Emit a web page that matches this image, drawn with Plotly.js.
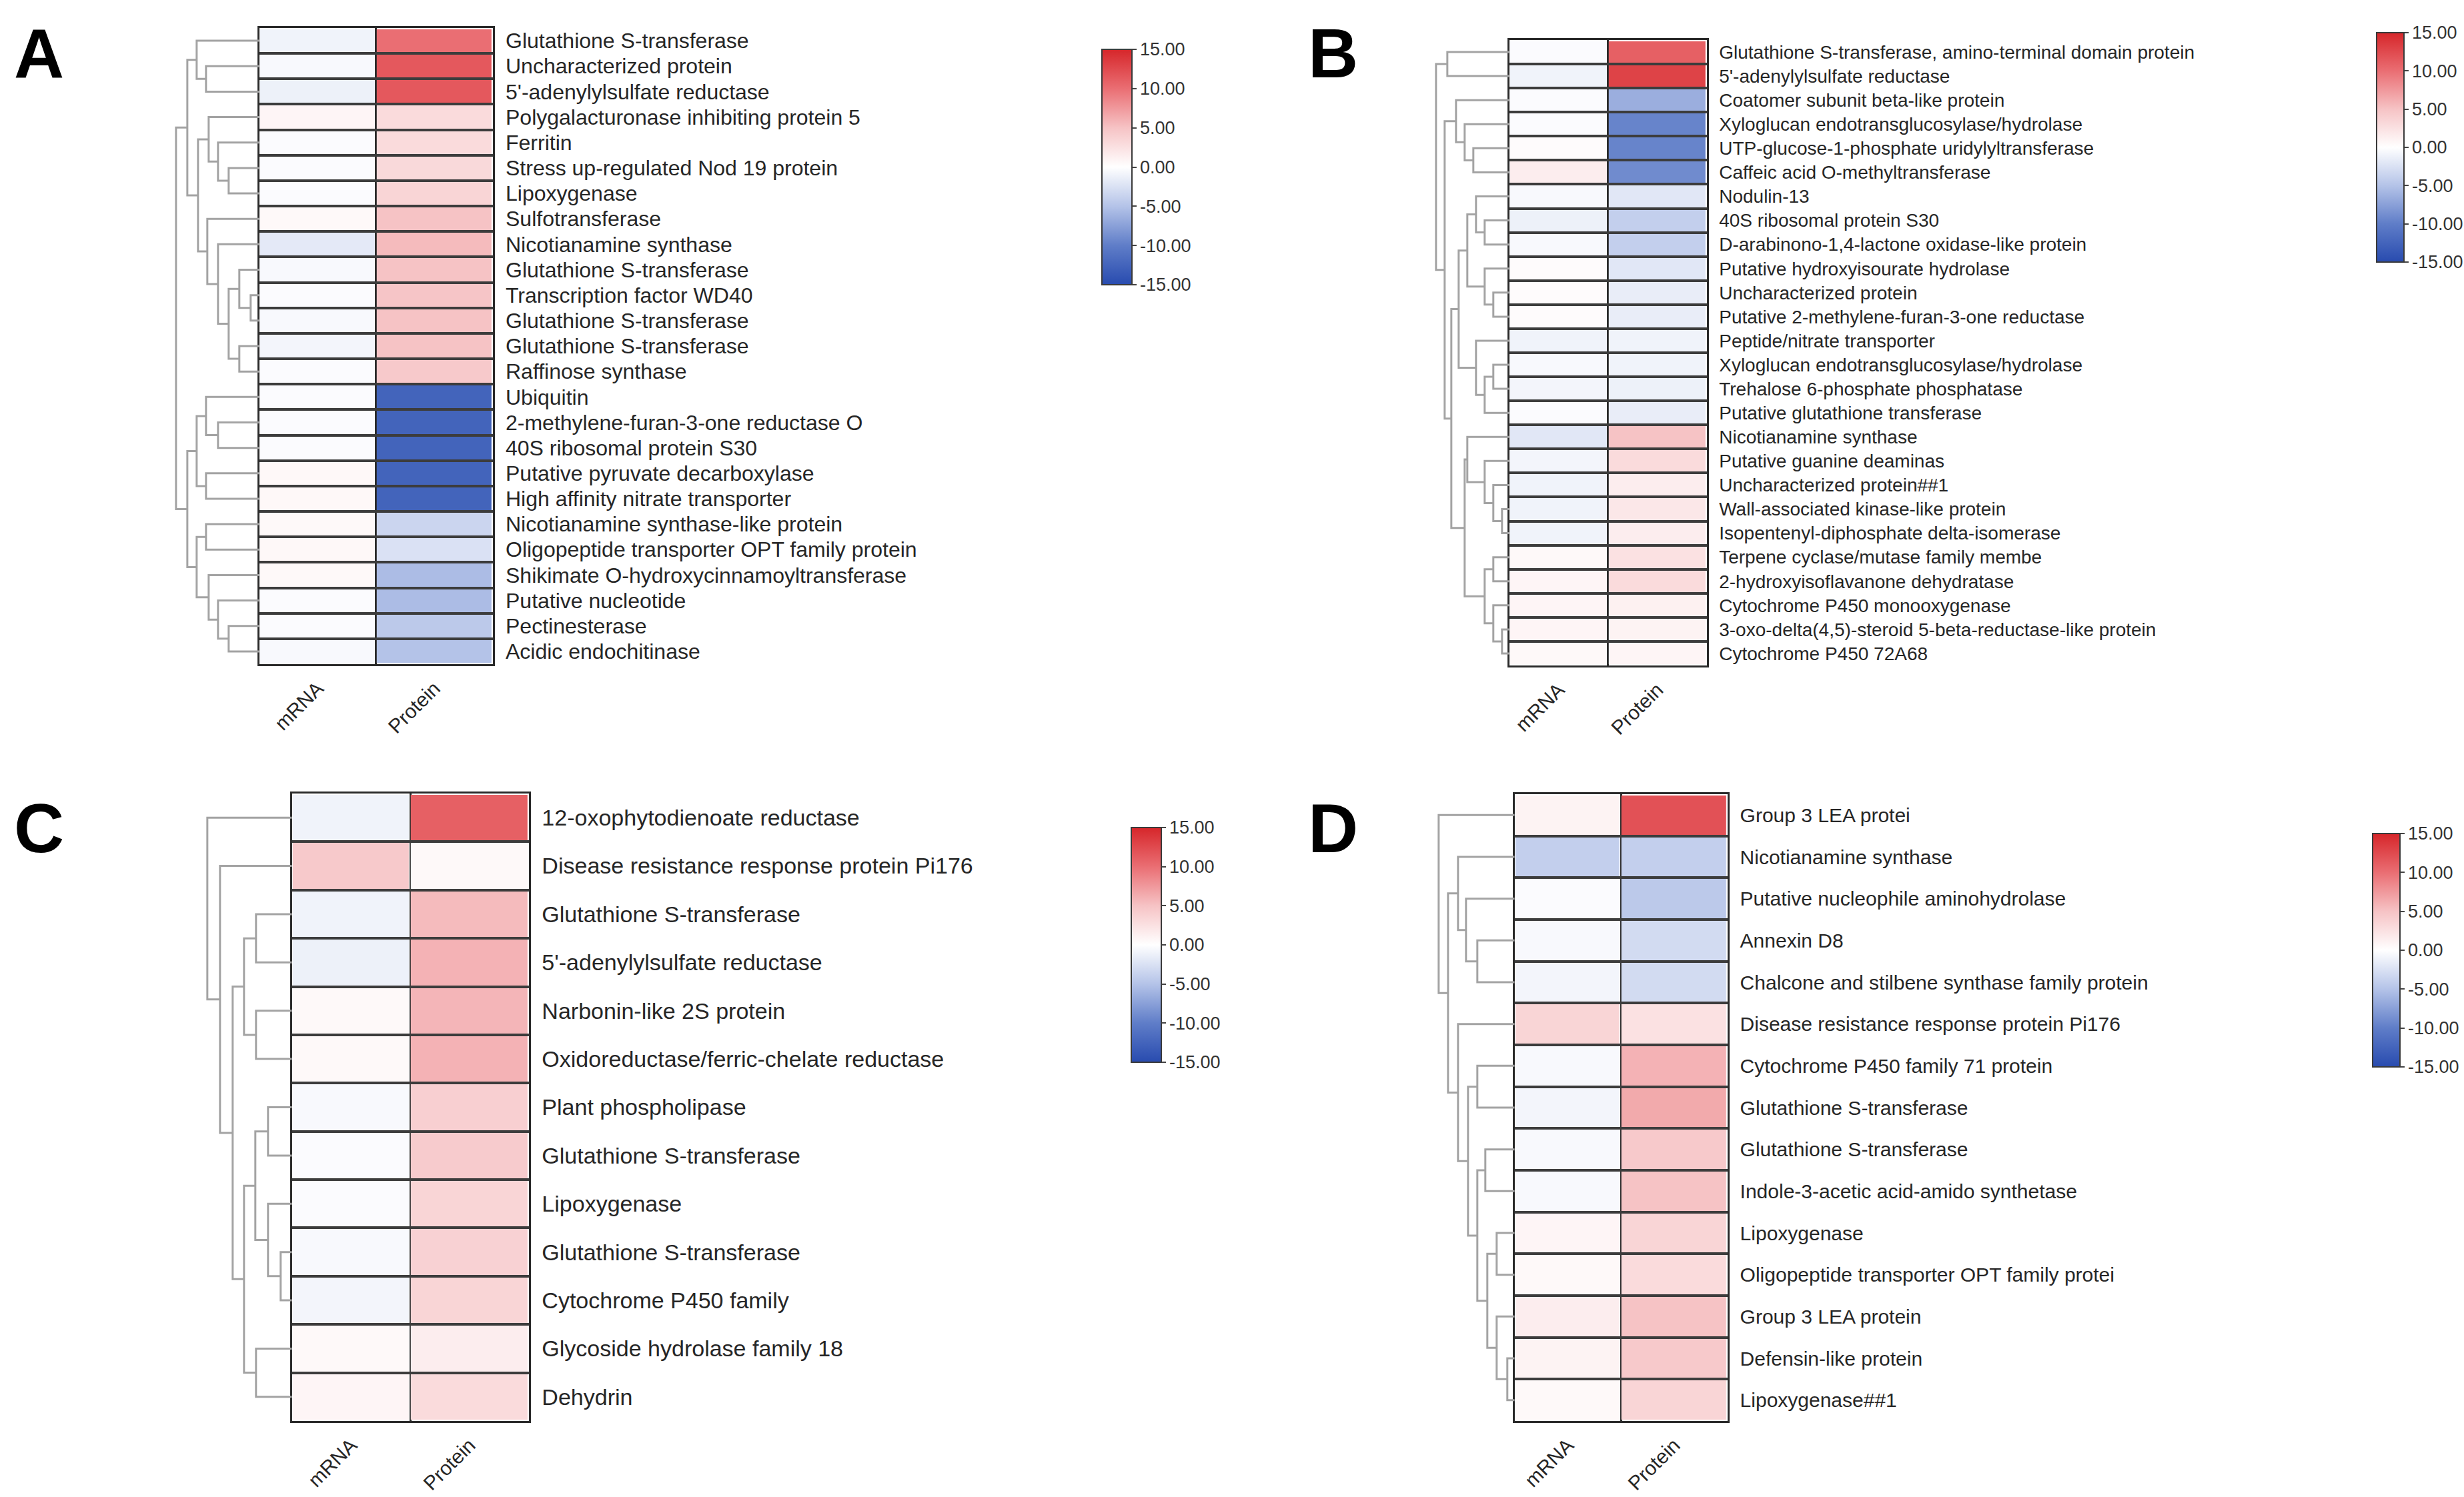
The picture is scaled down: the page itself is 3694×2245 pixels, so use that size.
<!DOCTYPE html>
<html><head><meta charset="utf-8">
<script src="https://cdn.plot.ly/plotly-3.0.1.min.js"></script>
<style>html,body{margin:0;padding:0;background:#fff}</style>
</head><body><div id="chart" style="width:3694px;height:2245px"></div>
<script>
const W = 3694, H = 2245;
const columns = ['mRNA', 'Protein'];
const cbTicks = [-15, -10, -5, 0, 5, 10, 15];

// ---------- Panel A ----------
const labelsA = ['Glutathione S-transferase','Uncharacterized protein',"5'-adenylylsulfate reductase",'Polygalacturonase inhibiting protein 5','Ferritin','Stress up-regulated Nod 19 protein','Lipoxygenase','Sulfotransferase','Nicotianamine synthase','Glutathione S-transferase','Transcription factor WD40','Glutathione S-transferase','Glutathione S-transferase','Raffinose synthase','Ubiquitin','2-methylene-furan-3-one reductase O','40S ribosomal protein S30','Putative pyruvate decarboxylase','High affinity nitrate transporter','Nicotianamine synthase-like protein','Oligopeptide transporter OPT family protein','Shikimate O-hydroxycinnamoyltransferase','Putative nucleotide','Pectinesterase','Acidic endochitinase'];
const mrnaA = [-1.0,-0.5,-1.2,0.8,-0.3,-0.3,-0.3,0.5,-1.8,-0.5,-0.3,-0.5,-0.8,-0.3,-0.3,-0.3,-0.3,0.6,0.6,0.5,0.6,0.5,-0.3,-0.3,-0.5];
const proteinA = [10.0,11.5,11.5,3.0,3.0,3.2,3.5,5.0,5.5,5.0,4.8,5.0,5.0,4.5,-12.5,-12.5,-12.5,-12.5,-12.5,-3.5,-2.5,-5.5,-5.5,-4.5,-5.0];
const dendroA = [
  ['c12',1,2,80],['c0_2',0,'c12',94],['c56',5,6,46],['c4_6',4,'c56',62],['c3_6',3,'c4_6',76],
  ['c10_11',10,11,13],['c9_11',9,'c10_11',30],['c12_13',12,13,30],['c9_13','c9_11','c12_13',46],
  ['c8_13',8,'c9_13',62],['c7_13',7,'c8_13',78],['c3_13','c3_6','c7_13',92],['c0_13','c0_2','c3_13',108],
  ['c15_16',15,16,62],['c14_16',14,'c15_16',80],['c17_18',17,18,80],['c14_18','c14_16','c17_18',94],
  ['c19_20',19,20,80],['c23_24',23,24,46],['c22_24',22,'c23_24',62],['c21_24',21,'c22_24',76],
  ['c19_24','c19_20','c21_24',94],['c14_24','c14_18','c19_24',108],['root','c0_13','c14_24',125]
];

// ---------- Panel B ----------
const labelsB = ['Glutathione S-transferase, amino-terminal domain protein',"5'-adenylylsulfate reductase",'Coatomer subunit beta-like protein','Xyloglucan endotransglucosylase/hydrolase','UTP-glucose-1-phosphate uridylyltransferase','Caffeic acid O-methyltransferase','Nodulin-13','40S ribosomal protein S30','D-arabinono-1,4-lactone oxidase-like protein','Putative hydroxyisourate hydrolase','Uncharacterized protein','Putative 2-methylene-furan-3-one reductase','Peptide/nitrate transporter','Xyloglucan endotransglucosylase/hydrolase','Trehalose 6-phosphate phosphatase','Putative glutathione transferase','Nicotianamine synthase','Putative guanine deaminas','Uncharacterized protein##1','Wall-associated kinase-like protein','Isopentenyl-diphosphate delta-isomerase','Terpene cyclase/mutase family membe','2-hydroxyisoflavanone dehydratase','Cytochrome P450 monooxygenase','3-oxo-delta(4,5)-steroid 5-beta-reductase-like protein','Cytochrome P450 72A68'];
const mrnaB = [-0.3,-1.0,-0.3,-0.3,0.3,1.5,-0.5,-1.2,-0.5,0.3,0.3,0.3,-1.0,-0.5,-0.8,-0.3,-2.0,-0.8,-1.0,-1.0,-1.0,0.5,0.8,0.8,0.8,0.5];
const proteinB = [11.0,13.0,-6.5,-9.5,-9.5,-9.0,-2.0,-4.0,-4.0,-2.0,-1.5,-1.5,-1.0,-1.0,-1.2,-1.5,5.0,3.0,1.5,2.0,1.5,2.5,3.0,1.2,1.0,0.8];
const dendroB = [
  ['c01',0,1,93],['c45',4,5,54],['c3_5',3,'c45',67],['c2_5',2,'c3_5',80],
  ['c78',7,8,37],['c6_8',6,'c78',50],['c10_11',10,11,24],['c9_11',9,'c10_11',37],['c6_11','c6_8','c9_11',63],
  ['c13_14',13,14,24],['c13_15','c13_14',15,37],['c12_15',12,'c13_15',50],['c6_15','c6_11','c12_15',76],
  ['c19_20',19,20,11],['c18_20',18,'c19_20',24],['c17_20',17,'c18_20',37],['c16_20',16,'c17_20',63],
  ['c21_22',21,22,24],['c24_25',24,25,11],['c23_25',23,'c24_25',24],['c21_25','c21_22','c23_25',37],
  ['c16_25','c16_20','c21_25',67],['c6_25','c6_15','c16_25',87],['c2_25','c2_5','c6_25',97],['root','c01','c2_25',110]
];

// ---------- Panel C ----------
const labelsC = ['12-oxophytodienoate reductase','Disease resistance response protein Pi176','Glutathione S-transferase',"5'-adenylylsulfate reductase",'Narbonin-like 2S protein','Oxidoreductase/ferric-chelate reductase','Plant phospholipase','Glutathione S-transferase','Lipoxygenase','Glutathione S-transferase','Cytochrome P450 family','Glycoside hydrolase family 18','Dehydrin'];
const mrnaC = [-1.0,4.5,-1.0,-1.2,0.5,0.5,-0.5,-0.3,-0.3,-0.5,-0.8,0.5,0.8];
const proteinC = [11.0,0.5,5.5,6.0,5.8,6.0,4.0,4.3,3.5,3.8,3.5,1.5,3.0];
const dendroC = [
  ['c23',2,3,54],['c45',4,5,54],['c2_5','c23','c45',72],['c67',6,7,36],['c9_10',9,10,17],
  ['c8_10',8,'c9_10',36],['c6_10','c67','c8_10',55],['c11_12',11,12,54],['c6_12','c6_10','c11_12',72],
  ['c2_12','c2_5','c6_12',89],['c1_12',1,'c2_12',108],['root',0,'c1_12',127]
];

// ---------- Panel D ----------
const labelsD = ['Group 3 LEA protei','Nicotianamine synthase','Putative nucleophile aminohydrolase','Annexin D8','Chalcone and stilbene synthase family protein','Disease resistance response protein Pi176','Cytochrome P450 family 71 protein','Glutathione S-transferase','Glutathione S-transferase','Indole-3-acetic acid-amido synthetase','Lipoxygenase','Oligopeptide transporter OPT family protei','Group 3 LEA protein','Defensin-like protein','Lipoxygenase##1'];
const mrnaD = [1.0,-4.0,-0.3,-0.5,-0.8,3.5,-0.5,-0.8,-0.5,-0.5,0.8,0.5,1.5,1.0,0.5];
const proteinD = [12.0,-4.0,-4.5,-3.0,-3.0,2.5,6.0,6.5,4.5,5.0,3.5,3.0,5.0,4.5,3.5];
const dendroD = [
  ['c34',3,4,56],['c2_4',2,'c34',73],['c1_4',1,'c2_4',85],['c67',6,7,56],['c89',8,9,44],
  ['c10_11',10,11,27],['c13_14',13,14,11],['c12_14',12,'c13_14',27],['c10_14','c10_11','c12_14',41],
  ['c8_14','c89','c10_14',56],['c6_14','c67','c8_14',70],['c5_14',5,'c6_14',85],
  ['c1_14','c1_4','c5_14',100],['root',0,'c1_14',114]
];

// ---------- layout of the four panels (pixel boxes) ----------
const panels = [
  {letter:'A', labels:labelsA, mrna:mrnaA, protein:proteinA, dendro:dendroA, hm:[389,739,42,996], dendW:135, cb:[1653,74,353,45], font:32, lpos:[19,80]},
  {letter:'B', labels:labelsB, mrna:mrnaB, protein:proteinB, dendro:dendroB, hm:[2264,2560,60,998], dendW:118, cb:[3565,49,344,41], font:28, lpos:[1960,80]},
  {letter:'C', labels:labelsC, mrna:mrnaC, protein:proteinC, dendro:dendroC, hm:[438,793,1190,2131], dendW:135, cb:[1697,1241,352,45], font:34, lpos:[19,1242]},
  {letter:'D', labels:labelsD, mrna:mrnaD, protein:proteinD, dendro:dendroD, hm:[2272,2591,1191,2131], dendW:120, cb:[3559,1250,350,41], font:30, lpos:[1960,1242]}
];

const colorscale = [
  [0,'rgb(40,75,175)'],[0.1667,'rgb(95,125,200)'],[0.3333,'rgb(180,195,232)'],
  [0.5,'rgb(255,255,255)'],[0.6667,'rgb(246,195,197)'],[0.8333,'rgb(234,110,115)'],[1,'rgb(214,38,42)']
];

function dendroLines(merges){
  const pos = {};
  const xs = [], ys = [];
  const get = k => (typeof k === 'number') ? {y:k, h:0} : pos[k];
  for (const [name,a,b,h] of merges){
    const A = get(a), B = get(b);
    xs.push(A.h, h, h, B.h, null);
    ys.push(A.y, A.y, B.y, B.y, null);
    pos[name] = {y:(A.y+B.y)/2, h:h};
  }
  return {xs, ys};
}

const fx = px => px / W;
const fy = py => 1 - py / H;
const data = [];
const layout = {
  width: W, height: H, margin:{l:0,r:0,t:0,b:0,pad:0},
  paper_bgcolor:'#ffffff', plot_bgcolor:'#ffffff', showlegend:false,
  font:{family:'Liberation Sans, Arial, sans-serif', color:'#262626'},
  annotations: []
};

panels.forEach((p, i) => {
  const k = i + 1, kd = i + 5;
  const n = p.labels.length;
  const idx = p.labels.map((_, j) => j);
  const z = idx.map(j => [p.mrna[j], p.protein[j]]);
  const [L, R, T, B] = p.hm;
  const boundaries = [];
  for (let j = 0; j < n - 1; j++) boundaries.push(j + 0.5);

  data.push({
    type:'heatmap', x:[0,1], y:idx, z:z, xaxis:'x'+k, yaxis:'y'+k,
    colorscale:colorscale, zmin:-15, zmax:15, zmid:0, xgap:3, ygap:4, hoverinfo:'skip',
    colorbar:{
      x:fx(p.cb[0]), xanchor:'left', xpad:0, y:fy(p.cb[1]), yanchor:'top', ypad:0,
      len:p.cb[2], lenmode:'pixels', thickness:p.cb[3], thicknessmode:'pixels',
      outlinewidth:2, outlinecolor:'#3a3a3a', borderwidth:0,
      tickmode:'array', tickvals:cbTicks, ticktext:cbTicks.map(v => v.toFixed(2)),
      ticks:'outside', ticklen:6, tickwidth:2, tickcolor:'#444',
      tickfont:{size:27, color:'#333', family:'Liberation Sans, Arial, sans-serif'}
    }
  });

  const dl = dendroLines(p.dendro);
  data.push({
    type:'scatter', mode:'lines', x:dl.xs, y:dl.ys, xaxis:'x'+kd, yaxis:'y'+kd,
    line:{color:'#a3a3a3', width:3}, hoverinfo:'skip', connectgaps:false
  });

  layout['xaxis'+k] = {
    domain:[fx(L), fx(R)], anchor:'y'+k, range:[-0.5,1.5], fixedrange:true,
    tickmode:'array', tickvals:[0,1], ticktext:columns, tickangle:-45, ticks:'',
    tickfont:{size:30, color:'#262626'}, ticklabelstandoff:4,
    showgrid:false, zeroline:false, showline:true, mirror:true, linecolor:'#2a2a2a', linewidth:3,
    minor:{tickmode:'array', tickvals:[0.5], showgrid:true, gridcolor:'#2a2a2a', gridwidth:3, ticks:''}
  };
  layout['yaxis'+k] = {
    domain:[fy(B), fy(T)], anchor:'x'+k, range:[n-0.5,-0.5], fixedrange:true, side:'right',
    tickmode:'array', tickvals:idx, ticktext:p.labels, ticks:'',
    tickfont:{size:p.font, color:'#262626'}, ticklabelstandoff:10,
    showgrid:false, zeroline:false, showline:true, mirror:true, linecolor:'#2a2a2a', linewidth:3,
    minor:{tickmode:'array', tickvals:boundaries, showgrid:true, gridcolor:'#3c3c3c', gridwidth:4, ticks:''}
  };
  layout['xaxis'+kd] = {
    domain:[fx(L - p.dendW), fx(L)], anchor:'y'+kd, range:[p.dendW, 0], visible:false, fixedrange:true
  };
  layout['yaxis'+kd] = {
    domain:[fy(B), fy(T)], anchor:'x'+kd, range:[n-0.5,-0.5], visible:false, fixedrange:true
  };
  layout.annotations.push({
    xref:'paper', yref:'paper', x:fx(p.lpos[0]), y:fy(p.lpos[1]), xanchor:'left', yanchor:'middle',
    text:'<b>'+p.letter+'</b>', showarrow:false,
    font:{size:104, color:'#000', family:'Liberation Sans, Arial, sans-serif'}
  });
});

Plotly.newPlot('chart', data, layout, {staticPlot:true, displayModeBar:false});
</script>
</body></html>
